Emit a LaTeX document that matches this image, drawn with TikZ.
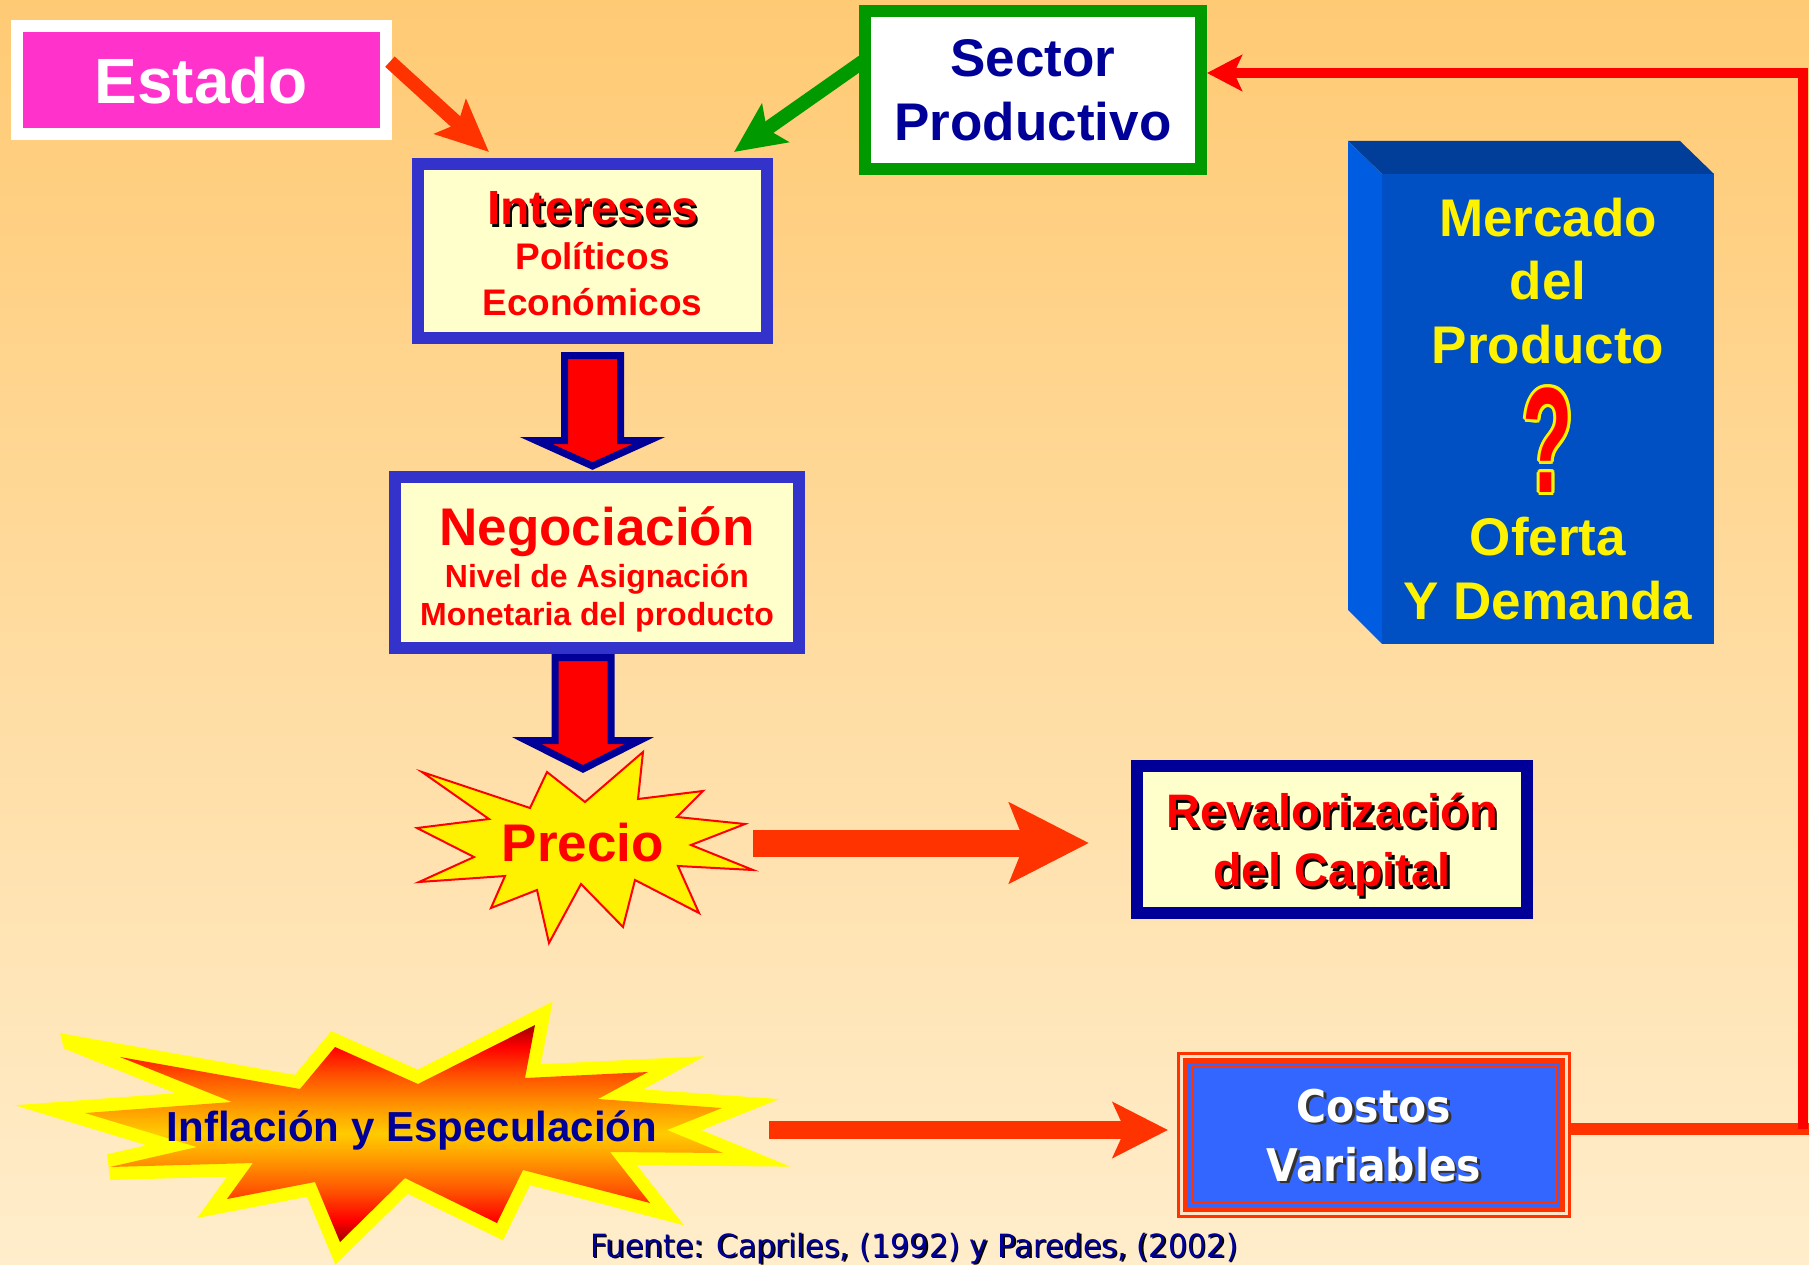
\documentclass[tikz,border=0pt]{standalone}
\usepackage{fontspec}
\usepackage{graphicx}
\setmainfont{Liberation Sans}
\newfontfamily\costosfont[FakeStretch=0.91]{DejaVu Sans}
\newfontfamily\dejavunarrow[FakeStretch=0.95]{DejaVu Sans}
\usetikzlibrary{arrows.meta, calc, positioning}

\definecolor{bgtop}{HTML}{FFCA74}
\definecolor{bgbot}{HTML}{FFEDCB}
\definecolor{estadopink}{HTML}{FF33CC}
\definecolor{navy}{HTML}{000099}
\definecolor{boxblue}{HTML}{3333CC}
\definecolor{paleyellow}{HTML}{FFFFCC}
\definecolor{arrowred}{HTML}{FF3300}
\definecolor{leafgreen}{HTML}{009900}
\definecolor{cubefront}{HTML}{0050C4}
\definecolor{cubetop}{HTML}{003E99}
\definecolor{cubeside}{HTML}{005CE0}
\definecolor{costblue}{HTML}{3366FF}
\definecolor{cream}{HTML}{FFE4C8}
\definecolor{burstdark}{HTML}{A00000}
\definecolor{burstorange}{HTML}{FF5500}
\definecolor{burstamber}{HTML}{FF9900}
\definecolor{burstgold}{HTML}{FFCC00}
\definecolor{burstyellow}{HTML}{FFFF00}

% red - orange - gold - orange - red, top to bottom
\pgfdeclareverticalshading{burst}{100bp}{color(0bp)=(burstdark); color(25bp)=(burstdark);
  color(30bp)=(red); color(37bp)=(burstorange); color(44bp)=(burstamber);
  color(50bp)=(burstgold); color(56bp)=(burstamber); color(63bp)=(burstorange);
  color(70bp)=(red); color(75bp)=(burstdark); color(100bp)=(burstdark)}

% text with a drop shadow: [offset]{colour}{shadow colour}{text}
\newcommand\shadowed[4][2pt]{%
  \makebox[0pt][l]{\hspace*{#1}\raisebox{-#1}{\textcolor{#3}{#4}}}\textcolor{#2}{#4}}
% text with an outline: {outline colour}{colour}{text}
\newcommand\outlined[3]{%
  \leavevmode\rlap{\color{#1}%
    \foreach \ang in {0,30,...,330}{%
      \rlap{\hspace*{\fpeval{round(3*cosd(\ang),3)}pt}\raisebox{\fpeval{round(3*sind(\ang),3)}pt}{#3}}}}%
  \textcolor{#2}{#3}}
% invisible struts: top of first line, bottom of last line
\newcommand\topstrut[1]{\rule{0pt}{#1}}
\newcommand\botstrut[1]{\rule[-#1]{0pt}{#1}}

\begin{document}
\begin{tikzpicture}[
  x = 1pt, y = -1pt,               % one unit = one pixel, y downwards
  inner sep = 0pt, outer sep = 0pt,
  line join = miter                % sharp corners
  ]

  \tikzstyle{P1}=[      % Pink box with white frame
  fill = estadopink, draw = white, line width = 12pt,
  text = white, font = \fontsize{64pt}{64pt}\selectfont\bfseries
  ]

  \tikzstyle{Y1}=[      % Pale yellow box with blue frame
  fill = paleyellow, draw = boxblue, line width = 12pt,
  align = center, text = red
  ]

  \tikzstyle{G1}=[      % White box with green frame
  fill = white, draw = leafgreen, line width = 12pt,
  align = center, text = navy
  ]

  \tikzstyle{M1}=[      % Front of the blue block
  fill = cubefront, text = yellow, align = center,
  minimum width = 332pt, minimum height = 470pt,
  font = \fontsize{53pt}{63.5pt}\selectfont\bfseries
  ]

  \tikzstyle{C1}=[      % Blue box with layered red frame
  fill = costblue, draw = arrowred, line width = 2pt,
  preaction = {draw = arrowred, line width = 30pt},
  preaction = {draw = cream, line width = 24pt},
  preaction = {draw = arrowred, line width = 18pt},
  preaction = {draw = costblue, line width = 8pt},
  minimum width = 364pt, minimum height = 136pt,
  align = center, font = \costosfont\bfseries\fontsize{45pt}{59pt}\selectfont
  ]

  \tikzstyle{B1}=[      % Fat red block arrow
  fill = red, draw = navy, line width = 7pt
  ]

  \tikzstyle{A1}=[color = arrowred, line width = 14pt,
  -{Stealth[length=52pt, width=46pt, inset=10pt]}]
  \tikzstyle{A2}=[color = leafgreen, line width = 14pt,
  -{Stealth[length=50pt, width=46pt, inset=10pt]}]
  \tikzstyle{A3}=[color = arrowred, line width = 27pt,
  -{Stealth[length=79pt, width=79pt, inset=15pt]}]
  \tikzstyle{A4}=[color = arrowred, line width = 18pt,
  -{Stealth[length=55pt, width=55pt, inset=12pt]}]

  % Background
  \useasboundingbox (0,0) rectangle (1809,1265);
  \fill[top color = bgtop, bottom color = bgbot] (0,0) rectangle (1809,1265);

  % Stars
  \begin{scope}
    \clip (0,0) -- (1809,0) -- (1809,1265) -- (0,1265) -- (0,1075) -- (70.5,1075)
      -- (51.75,1000) -- (0,1000) -- cycle;   % blunt tip on the upper left spike
    \shade[shading = burst, miter limit = 12,
      preaction = {draw = burstyellow, line width = 26pt}]
      (120,1057) -- (300,1089) -- (335,1047) -- (418,1084) -- (535,1025) -- (525,1078)
      -- (648,1072) -- (598,1099) -- (722,1108) -- (667,1130) -- (723,1153) -- (610,1152)
      -- (650,1203) -- (523,1170) -- (497,1223) -- (405,1178) -- (340,1242) -- (315,1182)
      -- (227,1199) -- (253,1163) -- (110,1167) -- (197,1147) -- (85,1113) -- (232,1102) -- cycle;
  \end{scope}
  \filldraw[fill = yellow, draw = red, line width = 2pt]
    (703,791) -- (677,817) -- (745,824) -- (691,845) -- (753,870) -- (678,866)
    -- (699,913) -- (635,880) -- (623,927) -- (581,884) -- (549,943) -- (537,890)
    -- (491,908) -- (505,876) -- (419,882) -- (474,857) -- (417,828) -- (489,819)
    -- (422,772) -- (530,808) -- (547,772) -- (585,802) -- (643,752) -- (638,799) -- cycle;

  % Definition of the nodes
  \node[P1, minimum width = 368.5pt, minimum height = 107.5pt] (estado) at (201.25,80.25) {Estado};
  \node[G1, minimum width = 336pt, minimum height = 158pt,
    font = \fontsize{53pt}{64pt}\selectfont\bfseries] (sector) at (1033,90) {Sector\\Productivo};
  \node[Y1, minimum width = 349pt, minimum height = 174pt,
    font = \fontsize{37pt}{45pt}\selectfont\bfseries] (intereses) at (592.5,251)
    {\topstrut{43pt}{\fontsize{48pt}{45pt}\selectfont\shadowed{red}{black}{Intereses}}\\
     Políticos\\Económicos\botstrut{5pt}};
  \node[Y1, minimum width = 404pt, minimum height = 171pt,
    font = \fontsize{32pt}{38pt}\selectfont\bfseries] (negociacion)
    [below = 139pt of intereses, xshift = 4.5pt]
    {\topstrut{55pt}{\fontsize{53pt}{38pt}\selectfont Negociación}\\[4pt]
     Nivel de Asignación\\Monetaria del producto\botstrut{10pt}};
  \node[text = red, minimum width = 340pt, font = \fontsize{53pt}{53pt}\selectfont\bfseries]
    (precio) at (583,843) {Precio};
  \node[Y1, draw = navy, minimum width = 390pt, minimum height = 147pt,
    font = \fontsize{47pt}{59pt}\selectfont\bfseries] (revalorizacion) at (1332,839.5)
    {\topstrut{48pt}\shadowed[2.5pt]{red}{black}{Revalorización}\\
     \shadowed[2.5pt]{red}{black}{del Capital}\botstrut{12pt}};
  \node[C1] (costos) [below = 154pt of revalorizacion, xshift = 42pt]
    {\topstrut{37pt}\shadowed[2.5pt]{white}{black!80}{Costos}\\
     \shadowed[2.5pt]{white}{black!80}{Variables}\botstrut{2pt}};
  \node[text = navy, minimum width = 714pt, font = \fontsize{42pt}{42pt}\selectfont\bfseries]
    (inflacion) at (412,1130) {Inflación y Especulación};
  \node[M1] (mercado) at (1548,409)
    {Mercado\\del\\Producto\\[65.5pt]%
     \smash{\outlined{yellow}{red}{\scalebox{0.55}[1]{\fontsize{150pt}{150pt}\selectfont ?}}}\\%
     Oferta\\Y Demanda};
  \node[anchor = base, text = navy, font = \dejavunarrow\fontsize{32pt}{32pt}\selectfont]
    (fuente) at (914,1257) {\shadowed[1.5pt]{navy}{black}{Fuente: Capriles, (1992) y Paredes, (2002)}};

  % Block faces
  \fill[cubetop] (mercado.north west) -- ++(-34,-33) -- ++(332,0) -- (mercado.north east) -- cycle;
  \fill[cubeside] (mercado.north west) -- ++(-34,-33) -- ++(0,469) -- (mercado.south west) -- cycle;

  % Connectors
  \path[A1, shorten <= 6pt] (estado.7) edge ([xshift = 71pt, yshift = 12pt]intereses.north west);
  \path[A2] ([yshift = 30pt]sector.west) edge ([xshift = -33pt, yshift = 12pt]intereses.north east);
  \draw[B1] let \p1 = (intereses.south), \p2 = (negociacion.north) in
    (\x1-28pt,\y1-17.5pt) -- (\x1-28pt,\y2+36.5pt) -- (\x1-56.5pt,\y2+36.5pt) -- (\x1,\y2+11pt)
    -- (\x1+56.5pt,\y2+36.5pt) -- (\x1+28pt,\y2+36.5pt) -- (\x1+28pt,\y1-17.5pt) -- cycle;
  \draw[B1] let \p1 = (negociacion.south), \p2 = (precio.center) in
    (\x2-28pt,\y1-9.5pt) -- (\x2-28pt,\y2+102.5pt) -- (\x2-56.5pt,\y2+102.5pt) -- (\x2,\y2+74pt)
    -- (\x2+56.5pt,\y2+102.5pt) -- (\x2+28pt,\y2+102.5pt) -- (\x2+28pt,\y1-9.5pt) -- cycle;
  \path[A3, shorten > = 48pt] (precio.east) edge (precio.east -| revalorizacion.west);
  \path[A4, shorten > = 24pt] (inflacion.east) edge (inflacion.east -| costos.west);

  % Feedback line
  \coordinate (rcorner) at (1803,1129);
  \draw[arrowred, line width = 12pt, line cap = rect, shorten <= 21pt] ([yshift = 6pt]costos.east) -- (rcorner);
  \draw[red, line width = 10pt, shorten > = 6pt, -{Stealth[length=35pt, width=36pt, inset=8pt]}]
    (rcorner) |- ([yshift = 17pt]sector.east);
\end{tikzpicture}
\end{document}
